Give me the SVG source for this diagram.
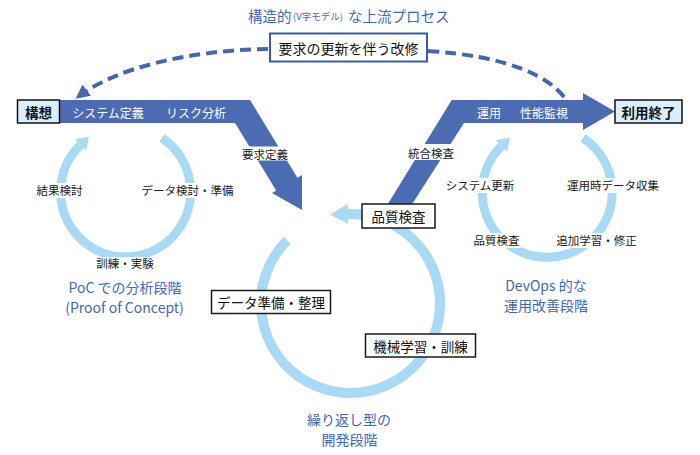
<svg xmlns="http://www.w3.org/2000/svg" width="700" height="455" viewBox="0 0 700 455">
<defs>
<style>
text { font-family: "Noto Sans CJK JP", "Noto Sans", sans-serif; dominant-baseline: central; }
.lbl { font-size: 11.5px; fill: #1a1a1a; text-anchor: middle; }
.band { fill: #4b6cb3; }
.bandtxt { font-size: 12px; fill: #ffffff; text-anchor: middle; }
.ring { fill: none; stroke: #a8daf5; stroke-width: 9; }
.box { fill: #ffffff; stroke: #1a1a1a; stroke-width: 1.5; }
.boxtxt { font-size: 13.5px; fill: #111111; text-anchor: middle; }
.endbox { fill: #dbeffa; stroke: #111111; stroke-width: 1.5; }
.endtxt { font-size: 13.5px; font-weight: bold; fill: #111111; text-anchor: middle; }
.stage { font-size: 14px; fill: #3f68b5; text-anchor: middle; }
.bg { fill: #ffffff; }
.dash { fill: none; stroke: #4467b0; stroke-width: 4; stroke-dasharray: 11 6; }
</style>
<marker id="dashHead" markerUnits="userSpaceOnUse" viewBox="0 0 14 14" refX="11" refY="7" markerWidth="14" markerHeight="14" orient="auto"><path d="M0,0 L14,7 L0,14 z" fill="#4467b0"/></marker>
<marker id="ringHeadS" markerUnits="userSpaceOnUse" viewBox="0 0 12 16" refX="0" refY="8" markerWidth="12" markerHeight="16" orient="auto"><path d="M0,0 L12,8 L0,16 z" fill="#a8daf5"/></marker>
<marker id="ringHeadL" markerUnits="userSpaceOnUse" viewBox="0 0 18 20" refX="0" refY="10" markerWidth="18" markerHeight="20" orient="auto"><path d="M0,0 L18,10 L0,20 z" fill="#a8daf5"/></marker>
</defs>

<rect width="700" height="455" fill="#ffffff"/>

<text x="248" y="15" style="font-size:14.5px;fill:#3f68b5">構造的</text>
<text x="293" y="16" style="font-size:9.5px;fill:#3f68b5">(V字モデル)</text>
<text x="348" y="15" style="font-size:14.5px;fill:#3f68b5">な上流プロセス</text>

<g id="connectors">
  <path class="ring" d="M162,138 A65,65 0 1 1 80.5,145" marker-end="url(#ringHeadS)"/>
  <path class="ring" d="M583,138 A65,65 0 1 1 501.5,146" marker-end="url(#ringHeadS)"/>
  <path class="ring" style="stroke-width:10" d="M287.2,240.2 A89.5,89.5 0 1 0 348,214" marker-end="url(#ringHeadL)"/>
  <path class="dash" d="M268,49 C190,50 115,68 78,97" marker-end="url(#dashHead)"/>
  <path class="dash" d="M428,51 C505,56 550,75 567,101"/>
</g>

<g id="v-left">
  <polygon class="band" points="58,100 250,100 297.4,177.7 302,175 302,210 272,193 276.2,190.6 235,123 58,123"/>
  <text class="bandtxt" x="108" y="112">システム定義</text>
  <text class="bandtxt" x="196" y="112">リスク分析</text>
  <rect class="bg" x="241" y="146.5" width="48" height="14"/>
  <text class="lbl" x="265" y="153.5">要求定義</text>
</g>

<g id="v-right">
  <polygon class="band" points="376.8,222 451.7,100 583,100 583,93 615,111.5 583,130 583,123 464,123 400.7,222"/>
  <text class="bandtxt" x="489" y="112">運用</text>
  <text class="bandtxt" x="544" y="112">性能監視</text>
  <rect class="bg" x="406" y="144" width="50" height="16"/>
  <text class="lbl" x="431" y="153">統合検査</text>
</g>

<g id="node-kousou">
  <rect class="endbox" x="17.5" y="100" width="42" height="23"/>
  <text class="endtxt" x="38.5" y="111.5">構想</text>
</g>

<g id="node-riyou-shuuryou">
  <rect class="endbox" x="615" y="100" width="67" height="23"/>
  <text class="endtxt" x="648.5" y="111.5">利用終了</text>
</g>

<g id="node-kaishuu">
  <rect x="270" y="33.5" width="157" height="28" fill="#ffffff" stroke="#3a5ca8" stroke-width="2"/>
  <text class="boxtxt" style="font-size:14px" x="348.5" y="47.5">要求の更新を伴う改修</text>
</g>

<g id="node-hinshitsu">
  <rect class="box" x="362" y="204" width="73" height="24"/>
  <text class="boxtxt" x="398.5" y="216">品質検査</text>
</g>

<g id="node-data-junbi">
  <rect class="box" x="211.5" y="290.5" width="119" height="23"/>
  <text class="boxtxt" x="271" y="302">データ準備・整理</text>
</g>

<g id="node-kikai-gakushuu">
  <rect class="box" x="365.5" y="334" width="110" height="23"/>
  <text class="boxtxt" x="420.5" y="345.5">機械学習・訓練</text>
</g>

<g id="poc-labels">
  <rect class="bg" x="35" y="183" width="49" height="15"/>
  <text class="lbl" x="59.5" y="190">結果検討</text>
  <rect class="bg" x="141" y="183" width="93" height="15"/>
  <text class="lbl" x="187.5" y="190">データ検討・準備</text>
  <rect class="bg" x="96" y="257" width="58" height="14"/>
  <text class="lbl" x="125" y="263">訓練・実験</text>
  <text class="stage" x="125" y="287">PoC での分析段階</text>
  <text class="stage" x="124.5" y="307">(Proof of Concept)</text>
</g>

<g id="devops-labels">
  <rect class="bg" x="444" y="178" width="72" height="15"/>
  <text class="lbl" x="480" y="185">システム更新</text>
  <rect class="bg" x="565" y="178" width="96" height="15"/>
  <text class="lbl" x="613" y="185">運用時データ収集</text>
  <rect class="bg" x="472" y="233" width="49" height="15"/>
  <text class="lbl" x="496.5" y="240">品質検査</text>
  <rect class="bg" x="556" y="233" width="81" height="15"/>
  <text class="lbl" x="596.5" y="240">追加学習・修正</text>
  <text class="stage" x="546" y="285">DevOps 的な</text>
  <text class="stage" x="546" y="305">運用改善段階</text>
</g>

<g id="dev-labels">
  <text class="stage" x="349" y="419">繰り返し型の</text>
  <text class="stage" x="349.5" y="439">開発段階</text>
</g>
</svg>
